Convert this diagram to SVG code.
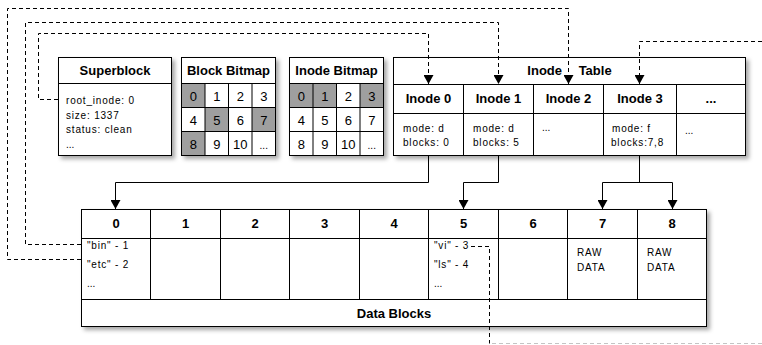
<svg xmlns="http://www.w3.org/2000/svg" width="762" height="345" viewBox="0 0 762 345">
  <defs>
    <filter id="shadow" x="-10%" y="-10%" width="130%" height="130%">
      <feDropShadow dx="3" dy="3" stdDeviation="2" flood-color="#000" flood-opacity="0.35"/>
    </filter>
    <marker id="arrow" markerUnits="userSpaceOnUse" markerWidth="10" markerHeight="10" refX="9" refY="5" orient="auto">
      <path d="M0,0 L9,5 L0,10 Z" fill="#000"/>
    </marker>
    <style>
      .box { fill: #fff; stroke: #000; stroke-width: 1; filter: url(#shadow); }
      .ln { fill: none; stroke: #000; stroke-width: 1; }
      .gray { fill: #9f9f9f; stroke: none; }
      .title { font-family: "Liberation Sans", Arial, sans-serif; font-size: 13px; font-weight: bold; text-anchor: middle; fill: #000; }
      .body { font-family: "Liberation Sans", Arial, sans-serif; font-size: 10px; letter-spacing: 0.8px; fill: #000; }
      .num { font-family: "Liberation Sans", Arial, sans-serif; font-size: 13px; text-anchor: middle; fill: #000; }
      .dots { font-family: "Liberation Sans", Arial, sans-serif; font-size: 10px; fill: #000; }
      .solid { fill: none; stroke: #000; stroke-width: 1; }
      .dash { fill: none; stroke: #000; stroke-width: 1; stroke-dasharray: 4 3; }
      .dashlight { fill: none; stroke: #c4c4c4; stroke-width: 1; stroke-dasharray: 4 3; }
    </style>
  </defs>
  <rect width="762" height="345" fill="#fff"/>

  <g id="superblock">
    <rect class="box" x="58.5" y="57.5" width="113" height="98"/>
    <path class="ln" d="M58.5,83.5 H171.5"/>
    <text class="title" x="115" y="75">Superblock</text>
    <text class="body" x="66" y="104">root_inode: 0</text>
    <text class="body" x="66" y="118.5">size: 1337</text>
    <text class="body" x="66" y="133">status: clean</text>
    <text class="dots" x="66" y="147.5">...</text>
  </g>

  <g id="block-bitmap">
    <rect class="box" x="181.5" y="57.5" width="94" height="98"/>
    <rect class="gray" x="181.5" y="83.5" width="23.5" height="24"/>
    <rect class="gray" x="205" y="107.5" width="23.5" height="24"/>
    <rect class="gray" x="252" y="107.5" width="23.5" height="24"/>
    <rect class="gray" x="181.5" y="131.5" width="23.5" height="24"/>
    <path class="ln" d="M181.5,83.5 H275.5 M181.5,107.5 H275.5 M181.5,131.5 H275.5 M205,83.5 V155.5 M228.5,83.5 V155.5 M252,83.5 V155.5"/>
    <rect x="181.5" y="57.5" width="94" height="98" fill="none" stroke="#000"/>
    <text class="title" x="228.5" y="75">Block Bitmap</text>
    <text class="num" x="193.25" y="100.5">0</text>
    <text class="num" x="216.75" y="100.5">1</text>
    <text class="num" x="240.25" y="100.5">2</text>
    <text class="num" x="263.75" y="100.5">3</text>
    <text class="num" x="193.25" y="124.5">4</text>
    <text class="num" x="216.75" y="124.5">5</text>
    <text class="num" x="240.25" y="124.5">6</text>
    <text class="num" x="263.75" y="124.5">7</text>
    <text class="num" x="193.25" y="148.5">8</text>
    <text class="num" x="216.75" y="148.5">9</text>
    <text class="num" x="240.25" y="148.5">10</text>
    <text class="dots" x="263.75" y="148.5" text-anchor="middle">...</text>
  </g>

  <g id="inode-bitmap">
    <rect class="box" x="289.5" y="57.5" width="94" height="98"/>
    <rect class="gray" x="289.5" y="83.5" width="23.5" height="24"/>
    <rect class="gray" x="313" y="83.5" width="23.5" height="24"/>
    <rect class="gray" x="360" y="83.5" width="23.5" height="24"/>
    <path class="ln" d="M289.5,83.5 H383.5 M289.5,107.5 H383.5 M289.5,131.5 H383.5 M313,83.5 V155.5 M336.5,83.5 V155.5 M360,83.5 V155.5"/>
    <rect x="289.5" y="57.5" width="94" height="98" fill="none" stroke="#000"/>
    <text class="title" x="336.5" y="75">Inode Bitmap</text>
    <text class="num" x="301.25" y="100.5">0</text>
    <text class="num" x="324.75" y="100.5">1</text>
    <text class="num" x="348.25" y="100.5">2</text>
    <text class="num" x="371.75" y="100.5">3</text>
    <text class="num" x="301.25" y="124.5">4</text>
    <text class="num" x="324.75" y="124.5">5</text>
    <text class="num" x="348.25" y="124.5">6</text>
    <text class="num" x="371.75" y="124.5">7</text>
    <text class="num" x="301.25" y="148.5">8</text>
    <text class="num" x="324.75" y="148.5">9</text>
    <text class="num" x="348.25" y="148.5">10</text>
    <text class="dots" x="371.75" y="148.5" text-anchor="middle">...</text>
  </g>

  <g id="inode-table">
    <rect class="box" x="393.5" y="57.5" width="352" height="98"/>
    <path class="ln" d="M393.5,84.5 H745.5 M393.5,113.5 H745.5 M463.5,84.5 V155.5 M533.5,84.5 V155.5 M603.5,84.5 V155.5 M676.5,84.5 V155.5"/>
    <text class="title" x="569.5" y="75" word-spacing="13">Inode Table</text>
    <text class="title" x="428.5" y="103">Inode 0</text>
    <text class="title" x="498.5" y="103">Inode 1</text>
    <text class="title" x="568.5" y="103">Inode 2</text>
    <text class="title" x="640" y="103">Inode 3</text>
    <text class="title" x="711" y="103">...</text>
    <text class="body" x="403" y="131.5">mode: d</text>
    <text class="body" x="403" y="145.5">blocks: 0</text>
    <text class="body" x="473" y="131.5">mode: d</text>
    <text class="body" x="473" y="145.5">blocks: 5</text>
    <text class="dots" x="542" y="131">...</text>
    <text class="body" x="612" y="131.5">mode: f</text>
    <text class="body" x="611" y="145.5">blocks:7,8</text>
    <text class="dots" x="685" y="134">...</text>
  </g>

  <g id="data-blocks">
    <rect class="box" x="81.5" y="209.5" width="625" height="117"/>
    <path class="ln" d="M81.5,238.5 H706.5 M81.5,299.5 H706.5 M150.5,209.5 V299.5 M220.5,209.5 V299.5 M289.5,209.5 V299.5 M359.5,209.5 V299.5 M428.5,209.5 V299.5 M498.5,209.5 V299.5 M567.5,209.5 V299.5 M637.5,209.5 V299.5"/>
    <text class="title" x="116" y="228">0</text>
    <text class="title" x="185.5" y="228">1</text>
    <text class="title" x="255" y="228">2</text>
    <text class="title" x="324.5" y="228">3</text>
    <text class="title" x="394" y="228">4</text>
    <text class="title" x="463.5" y="228">5</text>
    <text class="title" x="533" y="228">6</text>
    <text class="title" x="602.5" y="228">7</text>
    <text class="title" x="672" y="228">8</text>
    <text class="body" x="87" y="249">"bin" - 1</text>
    <text class="body" x="87" y="268">"etc" - 2</text>
    <text class="dots" x="87" y="287">...</text>
    <text class="body" x="434" y="249">"vi" - 3</text>
    <text class="body" x="434" y="268">"ls" - 4</text>
    <text class="dots" x="434" y="287">...</text>
    <text class="body" x="577" y="256">RAW</text>
    <text class="body" x="577" y="271">DATA</text>
    <text class="body" x="647" y="256">RAW</text>
    <text class="body" x="647" y="271">DATA</text>
    <text class="title" x="394" y="318">Data Blocks</text>
  </g>

  <g id="connectors">
    <path class="solid" d="M428.5,155.5 V182.5 H115.5 V209" marker-end="url(#arrow)"/>
    <path class="solid" d="M498.5,155.5 V182.5 H463.5 V209" marker-end="url(#arrow)"/>
    <path class="solid" d="M639.5,155.5 V182.5 M602.5,182.5 H672.5"/>
    <path class="solid" d="M602.5,182.5 V209" marker-end="url(#arrow)"/>
    <path class="solid" d="M672.5,182.5 V209" marker-end="url(#arrow)"/>
    <path class="dash" d="M81,259.5 H7.5 V8.5 H568.5 V84" marker-end="url(#arrow)"/>
    <path class="dash" d="M81,244.5 H25.5 V22.5 H498.5 V84" marker-end="url(#arrow)"/>
    <path class="dash" d="M58,99.5 H38.5 V33.5 H428.5 V84" marker-end="url(#arrow)"/>
    <path class="dash" d="M762,41.5 H639.5 V84" marker-end="url(#arrow)"/>
    <path class="dash" d="M471,246.5 H489.5 V343.5"/>
    <path class="dashlight" d="M492,343.5 H762"/>
  </g>
</svg>
